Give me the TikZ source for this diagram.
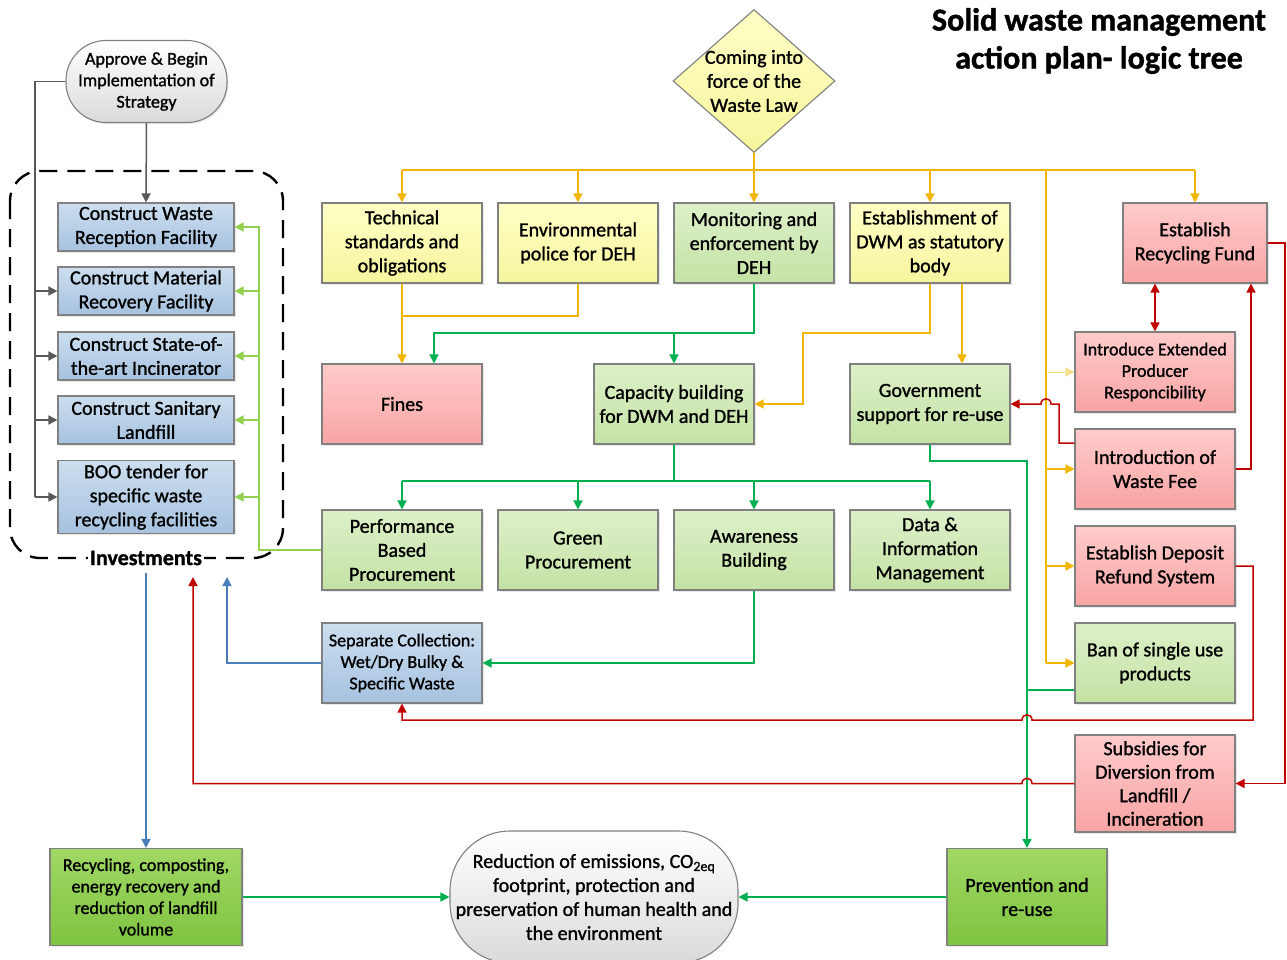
\documentclass[tikz,border=0pt]{standalone}
\usepackage{fontspec}
\setmainfont{Carlito}[FakeBold=1.2]
\usetikzlibrary{arrows.meta,shapes.geometric,shadows}

% fills
\definecolor{boxline}{HTML}{808080}
\definecolor{yelTop}{HTML}{FFFFC6}
\definecolor{yelBot}{HTML}{F6F59E}
\definecolor{grnTop}{HTML}{DDF0C9}
\definecolor{grnBot}{HTML}{C4E2A4}
\definecolor{redTop}{HTML}{FFCBCB}
\definecolor{redBot}{HTML}{F8A4A4}
\definecolor{bluTop}{HTML}{CCDEEF}
\definecolor{bluBot}{HTML}{A6C2E0}
\definecolor{limeTop}{HTML}{A0D864}
\definecolor{limeBot}{HTML}{7EC341}
\definecolor{greyTop}{HTML}{FFFFFF}
\definecolor{greyBot}{HTML}{DADADA}
% connector colours
\definecolor{lawline}{HTML}{F2B600}
\definecolor{actline}{HTML}{00B050}
\definecolor{invline}{HTML}{92D050}
\definecolor{feeline}{HTML}{C00000}
\definecolor{colline}{HTML}{4A7EBB}
\definecolor{stratline}{HTML}{595959}

\begin{document}
\begin{tikzpicture}[x=1pt,y=-1pt,
  >={Triangle[length=9pt,width=9pt]},
  every node/.style={font=\fontsize{20}{24}\selectfont, align=center, inner sep=2pt},
  card/.style={draw=boxline, line width=1.1pt,
    drop shadow={opacity=0.18, shadow xshift=1.5pt, shadow yshift=-1.5pt}},
  std/.style={card, minimum width=160pt, minimum height=80pt},
  yelcard/.style={top color=yelTop, bottom color=yelBot},
  grncard/.style={top color=grnTop, bottom color=grnBot},
  redcard/.style={top color=redTop, bottom color=redBot},
  blucard/.style={top color=bluTop, bottom color=bluBot},
  limecard/.style={top color=limeTop, bottom color=limeBot},
  greycard/.style={top color=greyTop, bottom color=greyBot},
  small/.style={font=\fontsize{18}{21.5}\selectfont},
  wire/.style={line width=1.5pt},
  arw/.style={wire, ->},
  region/.style={line width=2.4pt, dash pattern=on 18pt off 10pt, rounded corners=30pt}
]
\useasboundingbox (0,0) rectangle (1287,959);
\fill[white] (0,0) rectangle (1287,959);

% ---------- title ----------
\node[font=\fontsize{32}{38}\selectfont\bfseries] (title) at (1099,41)
  {Solid waste management\\action plan- logic tree};

% ---------- law ----------
\node[diamond, draw=boxline, line width=1.1pt, yelcard, minimum width=162pt,
  minimum height=143pt, inner sep=0pt] (law) at (754,81) {};
\node (lawtext) at (law.center) {Coming into\\force of the\\Waste Law};

% ---------- first row ----------
\node[std,yelcard] (tech) at (402,243) {Technical\\standards and\\obligations};
\node[std,yelcard] (police) at (578,243) {Environmental\\police for DEH};
\node[std,grncard] (monitor) at (754,243) {Monitoring and\\enforcement by\\DEH};
\node[std,yelcard] (dwm) at (930,243) {Establishment of\\DWM as statutory\\body};
\node[card,redcard,minimum width=144pt,minimum height=80pt] (fund) at (1195,243)
  {Establish\\Recycling Fund};

% ---------- second row ----------
\node[std,redcard] (fines) at (402,404) {Fines};
\node[std,grncard] (capacity) at (674,404) {Capacity building\\for DWM and DEH};
\node[std,grncard] (gov) at (930,404) {Government\\support for re-use};

% ---------- economic instruments ----------
\node[std,redcard,small] (epr) at (1155,372) {Introduce Extended\\Producer\\Responcibility};
\node[std,redcard] (fee) at (1155,469) {Introduction of\\Waste Fee};
\node[std,redcard] (deposit) at (1155,566) {Establish Deposit\\Refund System};
\node[std,grncard] (ban) at (1155,663) {Ban of single use\\products};
\node[card,redcard,minimum width=160pt,minimum height=97pt,
  font=\fontsize{20}{23.5}\selectfont, inner sep=0pt] (subs) at (1155,783.5)
  {Subsidies for\\Diversion from\\Landfill /\\Incineration};

% ---------- third row ----------
\node[std,grncard] (perf) at (402,550) {Performance\\Based\\Procurement};
\node[std,grncard] (greenproc) at (578,550) {Green\\Procurement};
\node[std,grncard] (aware) at (754,550) {Awareness\\Building};
\node[std,grncard] (data) at (930,550) {Data \&\\Information\\Management};
\node[std,blucard,small] (sepcol) at (402,663)
  {Separate Collection:\\Wet/Dry Bulky \&\\Specific Waste};

% ---------- strategy and investments ----------
\node[card,greycard,rounded corners=40pt,minimum width=161pt,minimum height=82pt,small]
  (approve) at (146.5,81.5) {Approve \& Begin\\Implementation of\\Strategy};
\draw[region] (10,171) rectangle (283,558);
\node[card,blucard,minimum width=176pt,minimum height=48pt] (wrf) at (146,227)
  {Construct Waste\\Reception Facility};
\node[card,blucard,minimum width=176pt,minimum height=48pt] (mrf) at (146,291)
  {Construct Material\\Recovery Facility};
\node[card,blucard,minimum width=176pt,minimum height=48pt] (inc) at (146,356)
  {Construct State-of-\\the-art Incinerator};
\node[card,blucard,minimum width=176pt,minimum height=48pt] (lf) at (146,420)
  {Construct Sanitary\\Landfill};
\node[card,blucard,minimum width=176pt,minimum height=73pt] (boo) at (146,497)
  {BOO tender for\\specific waste\\recycling facilities};
\node[fill=white, font=\fontsize{22}{26}\selectfont\bfseries, inner sep=2pt]
  (inv) at (146,558) {Investments};

% ---------- outcomes ----------
\node[card,limecard,minimum width=192pt,minimum height=97pt,small] (recyc) at (146,897)
  {Recycling, composting,\\energy recovery and\\reduction of landfill\\volume};
\node[draw=boxline, line width=1.1pt, greycard, rounded corners=60pt,
  minimum width=288pt, minimum height=132pt] (emis) at (594,897)
  {Reduction of emissions, CO\textsubscript{2eq}\\footprint, protection and\\preservation of human health and\\the environment};
\node[card,limecard,minimum width=160pt,minimum height=97pt] (prev) at (1027,897)
  {Prevention and\\re-use};

% ---------- yellow: from the law ----------
\coordinate (lawbus) at (754,170);
\draw[arw,lawline] (law.south) -- (monitor.north);
\draw[wire,lawline] (tech.north |- lawbus) -- (fund.north |- lawbus);
\foreach \n in {tech,police,dwm,fund}
  \draw[arw,lawline] (\n.north |- lawbus) -- (\n.north);
\coordinate (lawdrop) at (1046,170);
\draw[wire,lawline] (lawdrop) -- (lawdrop |- ban.west);
\foreach \n in {fee,deposit,ban}
  \draw[arw,lawline] (lawdrop |- \n.west) -- (\n.west);
\draw[arw,lawline!45,line width=1pt] (lawdrop |- epr.west) -- (epr.west);
\draw[arw,lawline] (tech.south) -- (fines.north);
\coordinate (polj) at (402,316);
\draw[wire,lawline] (police.south) |- (polj);
\draw[arw,lawline] ([xshift=32pt]dwm.south) -- ([xshift=32pt]gov.north);
\coordinate (dwmj) at (803,333);
\draw[arw,lawline] (dwm.south) |- (dwmj) |- (capacity.east);

% ---------- green: enforcement and capacity ----------
\coordinate (monj) at (754,333);
\draw[arw,actline] (monitor.south) -- (monj) -| ([xshift=32pt]fines.north);
\draw[arw,actline] (capacity.north |- monj) -- (capacity.north);
\coordinate (capj) at (674,481);
\draw[wire,actline] (capacity.south) -- (capj);
\draw[wire,actline] (perf.north |- capj) -- (data.north |- capj);
\foreach \n in {perf,greenproc,aware,data}
  \draw[arw,actline] (\n.north |- capj) -- (\n.north);
\draw[arw,actline] (aware.south) |- (sepcol.east);
\coordinate (govj) at (1027,461);
\draw[arw,actline] (gov.south) |- (govj) -- (prev.north);
\coordinate (banj) at (1027,690);
\draw[wire,actline] (banj -| ban.west) -- (banj);
\draw[arw,actline] (recyc.east) -- (emis.west);
\draw[arw,actline] (prev.west) -- (emis.east);

% ---------- light green: procurement of investments ----------
\coordinate (invtop) at (259,227);
\draw[arw,invline] (perf.west) -| (invtop) -- (wrf.east);
\foreach \n in {mrf,inc,lf,boo}
  \draw[arw,invline] (invtop |- \n.east) -- (\n.east);

% ---------- grey: strategy ----------
\draw[arw,stratline] (approve.south) -- (wrf.north);
\coordinate (stratj) at (35,81.5);
\draw[wire,stratline] (approve.west) -- (stratj) -- (stratj |- boo.west);
\foreach \n in {mrf,inc,lf,boo}
  \draw[arw,stratline] (stratj |- \n.west) -- (\n.west);

% ---------- blue: collection and investments ----------
\coordinate (colEnd) at (227,577);
\draw[arw,colline] (sepcol.west) -| (colEnd);
\coordinate (invOut) at (146,573);
\draw[arw,colline] (invOut) -- (recyc.north);

% ---------- red: economic instruments ----------
\draw[wire,<->,feeline] (epr.north |- fund.south) -- (epr.north);
\coordinate (feeR) at (1251,469);
\draw[arw,feeline] (fee.east) -- (feeR) -- (feeR |- fund.south);
\coordinate (fundR) at (1285,243);
\draw[arw,feeline] (fund.east) -- (fundR) |- (subs.east);
\coordinate (feeL) at (1059,443);
\draw[arw,feeline] (feeL -| fee.west) -- (feeL) |- (1051,404)
  .. controls (1051,397) and (1041,397) .. (1041,404) -- (gov.east);
\coordinate (depR) at (1253,720);
\draw[arw,feeline] (deposit.east) -| (depR) -- (1032,720)
  .. controls (1032,713) and (1022,713) .. (1022,720) -| (sepcol.south);
\coordinate (subsEnd) at (193,577);
\draw[arw,feeline] (subs.west) -- (1032,783.5)
  .. controls (1032,776.5) and (1022,776.5) .. (1022,783.5) -| (subsEnd);
\end{tikzpicture}
\end{document}
